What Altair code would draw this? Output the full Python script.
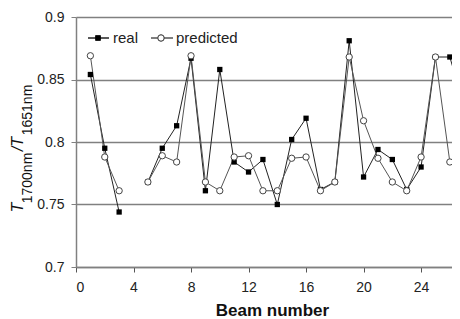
import altair as alt
import pandas as pd

# ---- data ----
beam = [1, 2, 3, 5, 6, 7, 8, 9, 10, 11, 12, 13, 14, 15, 16, 17, 18, 19, 20, 21, 22, 23, 24, 25, 26, 27]
real = [0.854, 0.795, 0.744, 0.768, 0.795, 0.813, 0.867, 0.761, 0.858, 0.784, 0.776, 0.786, 0.750,
        0.802, 0.819, 0.762, 0.768, 0.881, 0.772, 0.794, 0.786, 0.762, 0.780, 0.868, 0.868, 0.828]
predicted = [0.869, 0.788, 0.761, 0.768, 0.789, 0.784, 0.869, 0.768, 0.761, 0.788, 0.789, 0.761, 0.761,
             0.787, 0.788, 0.761, 0.768, 0.868, 0.817, 0.787, 0.768, 0.761, 0.788, 0.868, 0.784, 0.797]
segment = [0, 0, 0] + [1] * 23

x_ticks = list(range(0, 27))
y_ticks = [0.7, 0.75, 0.8, 0.85, 0.9]
legend_labels = ["real", "predicted"]
ytitle_parts = ["T", "1700nm", " /T", "1651nm"]
x_title = "Beam number"

FONT = "Liberation Sans"

df = pd.DataFrame({"beam": beam, "real": real, "predicted": predicted, "segment": segment})

xscale = alt.Scale(domain=[0, 26.15], nice=False, zero=False)
yscale = alt.Scale(domain=[0.7, 0.9], nice=False, zero=False)

xaxis = alt.Axis(values=x_ticks, labelExpr="datum.value % 4 == 0 ? datum.label : ''",
                 grid=False, tickSize=5, tickColor="#555", domainColor="#808080", domainWidth=1.5,
                 labelFont=FONT, labelFontSize=14, labelColor="#222", labelPadding=8,
                 labelOverlap=False, title=x_title, titleFont=FONT, titleFontSize=17,
                 titleFontWeight="bold", titleColor="#111", titleBaseline="alphabetic",
                 titleX=196, titleY=48)
yaxis = alt.Axis(values=y_ticks, format=".2~f", grid=True, gridColor="#808080", gridWidth=1.5,
                 tickSize=5, tickColor="#808080", domainColor="#808080", domainWidth=1.5,
                 labelFont=FONT, labelFontSize=14, labelColor="#222", labelPadding=7, title=None)

base = alt.Chart(df)

axes_layer = base.mark_point(opacity=0).encode(
    x=alt.X("beam:Q", scale=xscale, axis=xaxis),
    y=alt.Y("real:Q", scale=yscale, axis=yaxis),
)

real_line = base.mark_line(color="#222", strokeWidth=1, clip=True).encode(
    x=alt.X("beam:Q", scale=xscale), y=alt.Y("real:Q", scale=yscale), detail="segment:N")
pred_line = base.mark_line(color="#555", strokeWidth=1, clip=True).encode(
    x=alt.X("beam:Q", scale=xscale), y=alt.Y("predicted:Q", scale=yscale), detail="segment:N")
real_pts = base.mark_point(shape="square", filled=True, size=28, color="#000", opacity=1, clip=True).encode(
    x=alt.X("beam:Q", scale=xscale), y=alt.Y("real:Q", scale=yscale))
pred_pts = base.mark_point(shape="circle", filled=True, fill="white", stroke="#444", strokeWidth=1,
                           size=40, opacity=1, clip=True).encode(
    x=alt.X("beam:Q", scale=xscale), y=alt.Y("predicted:Q", scale=yscale))

# ---- legend (drawn by hand, top-left inside plot) ----
leg_df = pd.DataFrame({"label": legend_labels})
leg_y = 21
leg1_line = alt.Chart(leg_df).mark_rule(color="#222", strokeWidth=1).encode(
    x=alt.value(12), x2=alt.value(33), y=alt.value(leg_y))
leg1_pt = alt.Chart(leg_df).mark_point(shape="square", filled=True, size=28, color="#000", opacity=1).encode(
    x=alt.value(22), y=alt.value(leg_y))
leg1_txt = alt.Chart(leg_df).transform_filter(alt.datum.label == legend_labels[0]).mark_text(
    font=FONT, fontSize=15, color="#222", align="left", baseline="middle").encode(
    x=alt.value(37), y=alt.value(leg_y), text="label:N")
leg2_line = alt.Chart(leg_df).mark_rule(color="#555", strokeWidth=1).encode(
    x=alt.value(75), x2=alt.value(97), y=alt.value(leg_y))
leg2_pt = alt.Chart(leg_df).mark_point(shape="circle", filled=True, fill="white", stroke="#444",
                                       strokeWidth=1, size=40, opacity=1).encode(
    x=alt.value(85), y=alt.value(leg_y))
leg2_txt = alt.Chart(leg_df).transform_filter(alt.datum.label == legend_labels[1]).mark_text(
    font=FONT, fontSize=15, color="#222", align="left", baseline="middle").encode(
    x=alt.value(100), y=alt.value(leg_y), text="label:N")

# ---- y-axis title with subscripts ----
yt_df = pd.DataFrame({"part": ytitle_parts})
def ypart(i, xpos, ypos, size, italic):
    return alt.Chart(yt_df).transform_filter(alt.datum.part == ytitle_parts[i]).mark_text(
        font=FONT, fontSize=size, fontStyle="italic" if italic else "normal", color="#111",
        angle=270, align="center", baseline="alphabetic").encode(
        x=alt.value(xpos), y=alt.value(ypos), text="part:N")

yt = [ypart(0, -53, 190.5, 16, True), ypart(1, -44, 161, 14, False),
      ypart(2, -53, 127, 16, True), ypart(3, -44, 93, 14, False)]

chart = alt.layer(
    axes_layer, real_line, pred_line, real_pts, pred_pts,
    leg1_line, leg1_pt, leg1_txt, leg2_line, leg2_pt, leg2_txt, *yt
).properties(
    width=376, height=250,
    padding={"left": 68, "top": 9, "right": 0, "bottom": 58},
    autosize=alt.AutoSizeParams(type="none"),
    background="white",
).configure_view(stroke=None)

chart.save("out.html", embed_options={"renderer": "svg", "actions": False})
